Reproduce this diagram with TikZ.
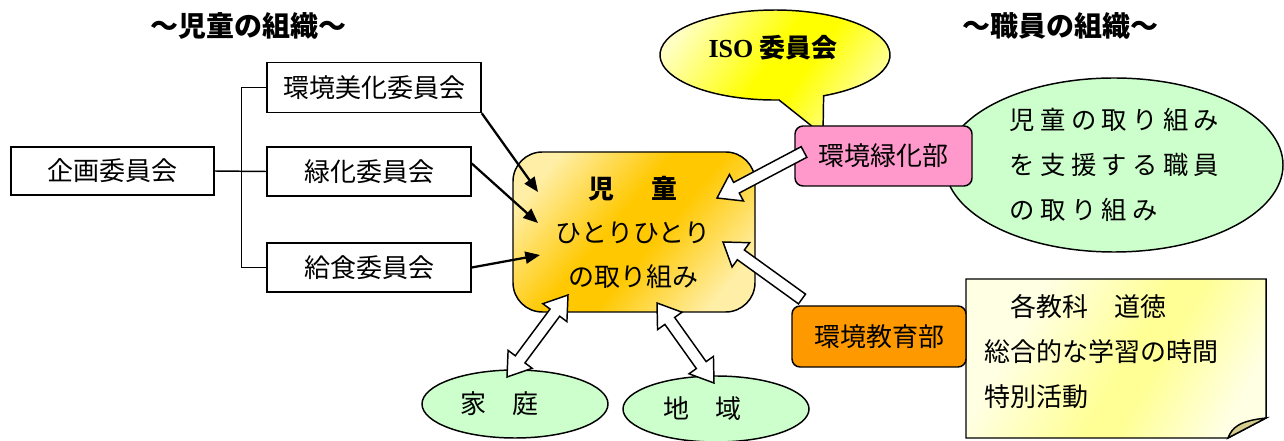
\documentclass[tikz,border=0pt]{standalone}
\usepackage{fontspec}
\setmainfont{Noto Sans CJK JP}
\newfontfamily\isofont{Liberation Serif}
\usetikzlibrary{arrows.meta,calc,shapes.geometric}
\definecolor{pinkbox}{RGB}{255,153,204}
\definecolor{orangebox}{RGB}{255,153,0}
\definecolor{paleg}{RGB}{204,255,204}
\definecolor{goldc}{RGB}{255,200,0}
\definecolor{goldl}{RGB}{255,238,165}
\definecolor{isol}{RGB}{255,255,195}
\definecolor{isoc}{RGB}{255,255,0}
\definecolor{notel}{RGB}{255,255,228}
\definecolor{notem}{RGB}{255,255,150}
\definecolor{foldc}{RGB}{212,204,140}
\pgfdeclarehorizontalshading{goldband}{100bp}{color(0bp)=(goldl); color(24bp)=(goldl); color(45bp)=(goldc); color(55bp)=(goldc); color(76bp)=(goldl); color(100bp)=(goldl)}
\pgfdeclarehorizontalshading{isoband}{100bp}{color(0bp)=(isol); color(26bp)=(isol); color(48bp)=(isoc); color(56bp)=(isoc); color(76bp)=(isol); color(100bp)=(isol)}
\pgfdeclarehorizontalshading{noteband}{100bp}{color(0bp)=(notel); color(30bp)=(notel); color(52bp)=(notem); color(58bp)=(notem); color(76bp)=(notel); color(100bp)=(notel)}
\newcommand\spreadtxt[1]{\spreadstep#1\relax}
\def\spreadstep#1{\ifx\relax#1\else#1\kern4pt\expandafter\spreadstep\fi}
\newcommand\sarrow[2]{%
  \coordinate (hh) at ($(#2)!16.5pt!(#1)$);
  \draw[warrow] ($(#1)!4.5pt!90:(#2)$) -- ($(hh)!4.5pt!90:(#2)$) -- ($(hh)!11.25pt!90:(#2)$) -- (#2) -- ($(hh)!11.25pt!-90:(#2)$) -- ($(hh)!4.5pt!-90:(#2)$) -- ($(#1)!4.5pt!-90:(#2)$) -- cycle;}
\newcommand\darrow[2]{%
  \coordinate (ha) at ($(#1)!16.5pt!(#2)$);
  \coordinate (hb) at ($(#2)!16.5pt!(#1)$);
  \draw[warrow] (#1) -- ($(ha)!11.25pt!90:(#2)$) -- ($(ha)!4.5pt!90:(#2)$) -- ($(hb)!4.5pt!90:(#2)$) -- ($(hb)!11.25pt!90:(#2)$) -- (#2) -- ($(hb)!11.25pt!-90:(#2)$) -- ($(hb)!4.5pt!-90:(#2)$) -- ($(ha)!4.5pt!-90:(#2)$) -- ($(ha)!11.25pt!-90:(#2)$) -- cycle;}
\begin{document}
\begin{tikzpicture}[x=0.75pt,y=-0.75pt,
  every node/.style={font=\fontsize{19.5}{24}\selectfont},
  sz/.style 2 args={minimum width=#1*0.75pt, minimum height=#2*0.75pt},
  box/.style={draw, line width=1.1pt, fill=white, inner sep=0pt},
  rbox/.style={draw, line width=1.1pt, inner sep=0pt, rounded corners=6pt},
  oval/.style={ellipse, draw, line width=1.1pt, fill=paleg, inner sep=0pt},
  conn/.style={line width=1.1pt},
  blk/.style={line width=1.7pt, -{Triangle[length=11pt,width=9pt]}},
  warrow/.style={draw, line width=1.1pt, fill=white, line join=miter},
  title/.style={font=\fontsize{21}{24}\selectfont\bfseries}]
\useasboundingbox (0,0) rectangle (1284,441);
% titles
\node[title] (t1) at (248,26) {～児童の組織～};
\node[title] (t2) at (1060,26) {～職員の組織～};
% left tree
\node[box, sz={203}{48}] (kikaku) at (112.5,171) {企画委員会};
\node[box, sz={214}{50}] (bika) at (374,87.5) {環境美化委員会};
\node[box, sz={204}{49}] (ryokka) at (369,171.5) {緑化委員会};
\node[box, sz={204}{49}] (kyushoku) at (369,267.5) {給食委員会};
\draw[conn] (bika.west) -- ++(-25,0) |- (kyushoku.west);
\draw[conn] (kikaku.east) -- (ryokka.west);
% center box
\node[draw, line width=1.1pt, rounded corners=22pt, sz={242}{160},
  shading=goldband, shading angle=-40] (jido) at (634,232) {};
\node[align=center, inner sep=0pt] (jidotxt) at (633,232) {{\bfseries 児\hspace{1.45em}童}\\[9pt]ひとりひとり\\[9pt]の取り組み};
\coordinate (a1) at (538,192);
\coordinate (a2) at (538,223);
\coordinate (a3) at (540,255);
\draw[blk] (bika.south east) -- (a1);
\draw[blk] ([yshift=6pt]ryokka.east) -- (a2);
\draw[blk] (kyushoku.east) -- (a3);
% ISO callout
\draw[line width=1.1pt, shading=isoband, shading angle=-35]
  (823.6,95.8) arc[start angle=65, end angle=-272, x radius=115, y radius=45] -- (823,135) -- cycle;
\node (isotxt) at (773,48) {\bfseries{\isofont ISO} 委員会};
% green ellipse
\node[oval, sz={338}{174}] (shokuin) at (1114,165) {};
\node[align=left, inner sep=0pt, font=\fontsize{19}{33.75}\selectfont] (shokuintxt) at (1117,165) {\spreadtxt{児童の取り組み}\\\spreadtxt{を支援する職員}\\\spreadtxt{の取り組み}};
% pink box
\node[rbox, fill=pinkbox, sz={177}{60}] (ryokabu) at (883.5,156) {環境緑化部};
% note
\draw[line width=1.1pt, shading=noteband, shading angle=-30]
  (966,279) -- (1266,279) -- (1266,418) -- (1228,438) -- (966,438) -- cycle;
\draw[line width=1.1pt, fill=foldc] (1228,438) .. controls (1232,428) and (1238,421) .. (1266,418) -- cycle;
\node[anchor=west, align=left, inner sep=0pt, font=\fontsize{19.5}{33.75}\selectfont] (notetxt) at (984,352) {　各教科　道徳\\総合的な学習の時間\\特別活動};
% orange box
\node[rbox, fill=orangebox, sz={174}{61}] (kyoikubu) at (879,336.5) {環境教育部};
% bottom ellipses
\node[oval, sz={186}{68}] (katei) at (515,404) {\makebox[0pt]{\hspace*{-24pt}家　庭}};
\node[oval, sz={186}{66}] (chiiki) at (716,409) {\makebox[0pt]{\hspace*{-20pt}地　域}};
% white arrows
\coordinate (p1) at (804,152);
\coordinate (p1t) at (717,198);
\sarrow{p1}{p1t}
\coordinate (p2) at (802,299);
\coordinate (p2t) at (723,242);
\sarrow{p2}{p2t}
\coordinate (k1) at (507,377);
\coordinate (k2) at (568,295);
\darrow{k1}{k2}
\coordinate (c1) at (657,303);
\coordinate (c2) at (714,383);
\darrow{c1}{c2}
\end{tikzpicture}
\end{document}
